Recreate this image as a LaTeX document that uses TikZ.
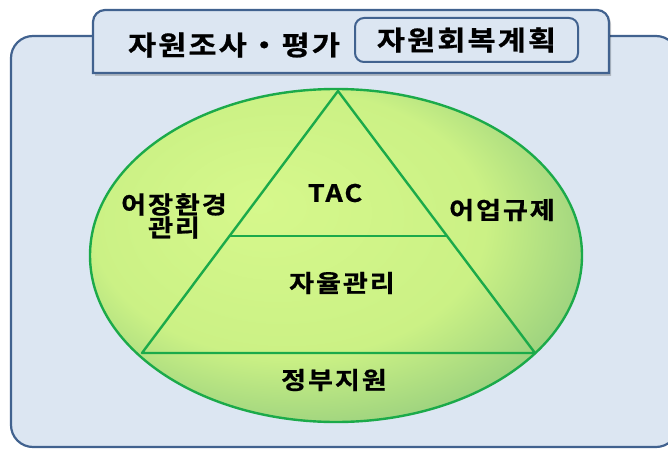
\documentclass[tikz,border=0pt]{standalone}
\usepackage{fontspec}
\newfontfamily\krsp{Noto Sans CJK KR}[UprightFont={* Bold}, BoldFont={* Bold}, FakeStretch=1.13, LetterSpace=8, FakeBold=0.8]
\usetikzlibrary{calc}
\definecolor{bgblue}{HTML}{DCE6F2}
\definecolor{framec}{HTML}{41628F}
\definecolor{lgreen}{HTML}{1BAA4A}
\definecolor{gcenter}{HTML}{D6F88C}
\definecolor{gmid}{HTML}{CBF185}
\definecolor{gedge}{HTML}{89C57C}
\pgfdeclareradialshading{ellsh}{\pgfpoint{-8bp}{8bp}}{color(0bp)=(gcenter); color(20bp)=(gmid); color(34bp)=(gedge); color(50bp)=(gedge)}
\tikzset{
  frameline/.style={draw=framec, line width=2.2pt, fill=bgblue},
  lbl/.style={font=\krsp\fontsize{24}{23}\selectfont, text=black, inner sep=0pt, align=center},
  ttl/.style={font=\krsp\fontsize{27}{27}\selectfont, text=black, inner sep=0pt},
  gline/.style={draw=lgreen, line width=2.4pt, line join=round}
}
\begin{document}
\begin{tikzpicture}[x=1pt,y=-1pt]
\useasboundingbox (0,0) rectangle (668,449);
% outer frame
\path[frameline, rounded corners=22pt] (11,36) rectangle (678,447);
% tab shadow
\fill[black, opacity=0.2] (95,76) -- (95,24) arc[start angle=180,end angle=270,radius=12] -- (599,12) arc[start angle=270,end angle=360,radius=12] -- (611,76) -- cycle;
% tab
\path[frameline] (93,73) -- (93,22) arc[start angle=180,end angle=270,radius=12] -- (597,10) arc[start angle=270,end angle=360,radius=12] -- (609,73) -- cycle;
\node[ttl] (t1) at (234,45) {자원조사・평가};
\node[ttl, draw=framec, line width=2pt, fill=bgblue, rounded corners=9pt, minimum width=223pt, minimum height=44pt, inner sep=0pt] (t2) at (466.5,40) {자원회복계획};
% ellipse
\coordinate (c) at (336,255.5);
\shade[shading=ellsh] (c) ellipse [x radius=246, y radius=166.5];
\draw[gline] (c) ellipse [x radius=246, y radius=166.5];
% triangle
\coordinate (apex) at (338,91);
\coordinate (bl) at (142,353);
\coordinate (br) at (535,353);
\coordinate (ml) at ($(apex)!0.553!(bl)$);
\coordinate (mr) at ($(apex)!0.553!(br)$);
\draw[gline] (apex) -- (bl) -- (br) -- cycle;
\draw[gline] (ml) -- (mr);
% labels
\node[lbl] (tac) at (335,193) {TAC};
\node[lbl] (self) at (342,283) {자율관리};
\node[lbl] (env) at (174,216) {어장환경\\관리};
\node[lbl] (reg) at (502,210) {어업규제};
\node[lbl] (gov) at (334,380) {정부지원};
\end{tikzpicture}
\end{document}
